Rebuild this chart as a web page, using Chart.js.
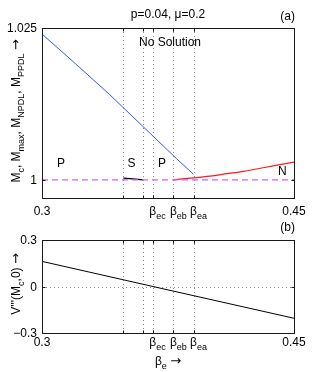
<!DOCTYPE html>
<html><head><meta charset="utf-8">
<script src="https://cdn.jsdelivr.net/npm/chart.js@4.4.1/dist/chart.umd.min.js"></script>
<style>
html,body{margin:0;padding:0;background:#fff;}
#wrap{position:relative;width:325px;height:372px;}
canvas{position:absolute;left:0;top:0;}
</style></head><body>
<div id="wrap"><canvas id="ca" width="325" height="372"></canvas><canvas id="cb" width="325" height="372"></canvas></div>
<script>
// ---- tick data ----
const betaGrid = [0.3484, 0.3603, 0.3659, 0.3782, 0.3902];
const betaTickValues = [0.3, 0.3659, 0.3782, 0.3902, 0.45];
const betaTickText = ['0.3', 'β', 'β', 'β', '0.45'];
const betaTickSub = ['', 'ec', 'eb', 'ea', ''];
const yTicksA = [1, 1.025];
const yTickTextA = ['1', '1.025'];
const yTicksB = [-0.3, 0, 0.3];
const yTickTextB = ['−0.3', '0', '0.3'];

// ---- panel (a) series ----
const blueBeta = [0.3, 0.32, 0.34, 0.36, 0.38, 0.3902];
const blueM = [1.0240, 1.0191, 1.0141, 1.0088, 1.0035, 1.0009];
const blackBeta = [0.3484, 0.354, 0.3603];
const blackM = [1.00026, 1.00014, 1.0000];
const redBeta = [0.3782, 0.39, 0.40, 0.41, 0.42, 0.43, 0.44, 0.45];
const redM = [1.0000, 1.0003, 1.0006, 1.0010, 1.0014, 1.0019, 1.0024, 1.0029];
const dashBeta = [0.3, 0.45];
const dashM = [1, 1];

// ---- panel (b) series ----
const vBeta = [0.3, 0.375, 0.45];
const vVal = [0.162, -0.022, -0.205];

// ---- region labels (panel a, data coords) ----
const regionText = ['P', 'S', 'P', 'N', 'No Solution'];
const regionBeta = [0.3113, 0.3533, 0.3714, 0.4430, 0.3762];
const regionM = [1.00285, 1.00285, 1.00285, 1.00145, 1.02275];

const FONT = '"Liberation Sans", Arial, Helvetica, sans-serif';
const F12 = '12px ' + FONT;
const F9 = '9px ' + FONT;
const FARROW = '13px "DejaVu Sans", sans-serif';
const fontFor = k => (k === 1 ? F9 : (k === 2 ? FARROW : F12));

function pts(xs, ys) { return xs.map((x, i) => ({x: x, y: ys[i]})); }

// draw text made of [text, kind] parts: 0 normal, 1 subscript, 2 arrow
function drawRich(ctx, parts, x, y, align) {
  let total = 0;
  const widths = parts.map(p => { ctx.font = fontFor(p[1]); const w = ctx.measureText(p[0]).width; total += w; return w; });
  let cx = align === 'center' ? x - total / 2 : (align === 'right' ? x - total : x);
  ctx.textAlign = 'left';
  ctx.textBaseline = 'alphabetic';
  parts.forEach((p, i) => {
    ctx.font = fontFor(p[1]);
    ctx.fillText(p[0], cx, y + (p[1] === 1 ? 4 : 0));
    cx += widths[i];
  });
}

function makeDeco(opts) {
  return {
    id: 'deco' + opts.name,
    beforeDatasetsDraw(chart) {
      const ctx = chart.ctx, a = chart.chartArea, xs = chart.scales.x, ys = chart.scales.y;
      ctx.save();
      ctx.strokeStyle = '#8a8a8a';
      ctx.lineWidth = 1;
      ctx.setLineDash([1, 3]);
      betaGrid.forEach(v => {
        const px = Math.round(xs.getPixelForValue(v)) + 0.5;
        ctx.beginPath(); ctx.moveTo(px, a.top); ctx.lineTo(px, a.bottom); ctx.stroke();
      });
      (opts.hGrid || []).forEach(v => {
        const py = Math.round(ys.getPixelForValue(v)) + 0.5;
        ctx.beginPath(); ctx.moveTo(a.left, py); ctx.lineTo(a.right, py); ctx.stroke();
      });
      ctx.restore();
    },
    afterDatasetsDraw(chart) {
      const ctx = chart.ctx, a = chart.chartArea, xs = chart.scales.x, ys = chart.scales.y;
      ctx.save();
      ctx.strokeStyle = '#1a1a1a';
      ctx.lineWidth = 1;
      ctx.setLineDash([]);
      const L = Math.round(a.left) + 0.5, R = Math.round(a.right) + 0.5, T = Math.round(a.top) + 0.5, B = Math.round(a.bottom) + 0.5;
      ctx.strokeRect(L, T, R - L, B - T);
      ctx.beginPath();
      betaGrid.concat(betaTickValues).forEach(v => {
        const px = Math.round(xs.getPixelForValue(v)) + 0.5;
        ctx.moveTo(px, B); ctx.lineTo(px, B - 3);
        ctx.moveTo(px, T); ctx.lineTo(px, T + 3);
      });
      opts.yTicks.forEach(v => {
        const py = Math.round(ys.getPixelForValue(v)) + 0.5;
        ctx.moveTo(L, py); ctx.lineTo(L + 3, py);
        ctx.moveTo(R, py); ctx.lineTo(R - 3, py);
      });
      ctx.stroke();
      ctx.fillStyle = '#000';
      betaTickValues.forEach((v, i) => {
        const px = xs.getPixelForValue(v);
        const base = a.bottom + opts.xLabelDy;
        if (betaTickSub[i]) {
          ctx.font = F12;
          const w = ctx.measureText(betaTickText[i]).width;
          drawRich(ctx, [[betaTickText[i], 0], [betaTickSub[i], 1]], px - w / 2, base, 'left');
        } else {
          ctx.font = F12; ctx.textAlign = 'center'; ctx.textBaseline = 'alphabetic';
          ctx.fillText(betaTickText[i], px, base);
        }
      });
      opts.yTicks.forEach((v, i) => {
        const py = ys.getPixelForValue(v);
        ctx.font = F12; ctx.textAlign = 'right'; ctx.textBaseline = 'alphabetic';
        ctx.fillText(opts.yTickText[i], a.left - 5, py + 4.3);
      });
      ctx.font = F12; ctx.textAlign = 'right';
      ctx.fillText(opts.tag, a.right + 1, opts.tagY);
      ctx.save();
      ctx.translate(20, opts.yTitleCenter);
      ctx.rotate(-Math.PI / 2);
      drawRich(ctx, opts.yTitle, 0, 0, 'center');
      ctx.restore();
      if (opts.extra) opts.extra(chart, ctx);
      ctx.restore();
    }
  };
}

const decoA = makeDeco({
  name: 'A', yTicks: yTicksA, yTickText: yTickTextA, xLabelDy: 17, tag: '(a)', tagY: 20,
  yTitleCenter: 111,
  yTitle: [['M', 0], ['c', 1], [', M', 0], ['max', 1], [', M', 0], ['NPDL', 1], [', M', 0], ['PPDL', 1], [' ', 0], ['→', 2]],
  extra(chart, ctx) {
    const xs = chart.scales.x, ys = chart.scales.y, a = chart.chartArea;
    ctx.font = F12; ctx.textAlign = 'center'; ctx.textBaseline = 'alphabetic';
    ctx.fillText('p=0.04, μ=0.2', (a.left + a.right) / 2, 18);
    regionText.forEach((t, i) => {
      ctx.fillText(t, xs.getPixelForValue(regionBeta[i]), ys.getPixelForValue(regionM[i]) + 4.3);
    });
  }
});

const decoB = makeDeco({
  name: 'B', yTicks: yTicksB, yTickText: yTickTextB, xLabelDy: 13, tag: '(b)', tagY: 231,
  yTitleCenter: 284, hGrid: [0],
  yTitle: [['V\'\'\'(M', 0], ['c', 1], [',0) ', 0], ['→', 2]],
  extra(chart, ctx) {
    const a = chart.chartArea;
    drawRich(ctx, [['β', 0], ['e', 1], [' ', 0], ['→', 2]], (a.left + a.right) / 2, 365, 'center');
  }
});

const common = (pad, ymin, ymax) => ({
  responsive: false, animation: false, devicePixelRatio: 1,
  layout: {padding: pad},
  scales: {
    x: {type: 'linear', min: 0.3, max: 0.45, display: false},
    y: {type: 'linear', min: ymin, max: ymax, display: false}
  },
  plugins: {legend: {display: false}, tooltip: {enabled: false}, title: {display: false}},
  elements: {point: {radius: 0}, line: {tension: 0}}
});

new Chart(document.getElementById('ca'), {
  type: 'line',
  data: {datasets: [
    {data: pts(dashBeta, dashM), borderColor: '#cc66ff', borderWidth: 1.3, borderDash: [6, 4]},
    {data: pts(blueBeta, blueM), borderColor: '#2f55ff', borderWidth: 1},
    {data: pts(blackBeta, blackM), borderColor: '#000', borderWidth: 1.2},
    {data: pts(redBeta, redM), borderColor: '#ff1a1a', borderWidth: 1.2, cubicInterpolationMode: 'monotone'}
  ]},
  options: common({left: 42, right: 31, top: 28, bottom: 174}, 0.997, 1.025),
  plugins: [decoA]
});

new Chart(document.getElementById('cb'), {
  type: 'line',
  data: {datasets: [
    {data: pts(vBeta, vVal), borderColor: '#000', borderWidth: 1}
  ]},
  options: common({left: 42, right: 31, top: 240, bottom: 39}, -0.3, 0.3),
  plugins: [decoB]
});
</script>
</body></html>
